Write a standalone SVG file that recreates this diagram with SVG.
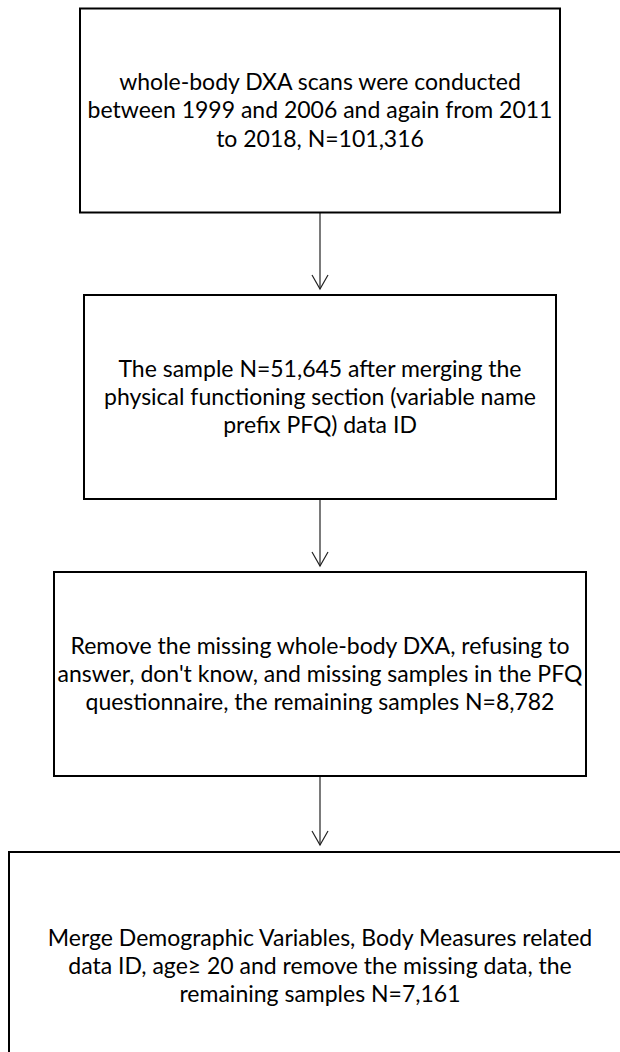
<svg xmlns="http://www.w3.org/2000/svg" width="620" height="1052" viewBox="0 0 620 1052">
<style>
.box{fill:#fff;stroke:#000;stroke-width:2}
.t{font-family:Lato,"Liberation Sans",sans-serif;font-size:23px;fill:#000;text-anchor:middle}
.c{stroke:#222;stroke-width:1.2;fill:none}
</style>
<defs>
<marker id="arr" markerUnits="userSpaceOnUse" markerWidth="20" markerHeight="20" refX="14" refY="8" orient="auto" overflow="visible">
<path d="M0,0 L14,8 L0,16" fill="none" stroke="#222" stroke-width="1.2"/>
</marker>
</defs>
<rect width="620" height="1052" fill="#fff"/>
<g id="connectors">
<line class="c" x1="320" y1="213" x2="320" y2="289" marker-end="url(#arr)"/>
<line class="c" x1="320" y1="500" x2="320" y2="566" marker-end="url(#arr)"/>
<line class="c" x1="320" y1="777" x2="320" y2="845" marker-end="url(#arr)"/>
</g>
<g id="node1">
<rect class="box" x="80" y="8.5" width="480" height="204"/>
<text class="t" x="320" y="90">whole-body DXA scans were conducted</text>
<text class="t" x="320" y="118">between 1999 and 2006 and again from 2011</text>
<text class="t" x="320" y="146.5">to 2018, N=101,316</text>
</g>
<g id="node2">
<rect class="box" x="84" y="295" width="472" height="204"/>
<text class="t" x="320" y="376.5">The sample N=51,645 after merging the</text>
<text class="t" x="320" y="404.5">physical functioning section (variable name</text>
<text class="t" x="320" y="432.5">prefix PFQ) data ID</text>
</g>
<g id="node3">
<rect class="box" x="54" y="572" width="532" height="204"/>
<text class="t" x="320" y="654">Remove the missing whole-body DXA, refusing to</text>
<text class="t" x="320" y="682">answer, don't know, and missing samples in the PFQ</text>
<text class="t" x="320" y="710">questionnaire, the remaining samples N=8,782</text>
</g>
<g id="node4">
<rect class="box" x="9" y="852" width="630" height="240"/>
<text class="t" x="320" y="946">Merge Demographic Variables, Body Measures related</text>
<text class="t" x="320" y="974">data ID, age≥ 20 and remove the missing data, the</text>
<text class="t" x="320" y="1002">remaining samples N=7,161</text>
</g>
</svg>
